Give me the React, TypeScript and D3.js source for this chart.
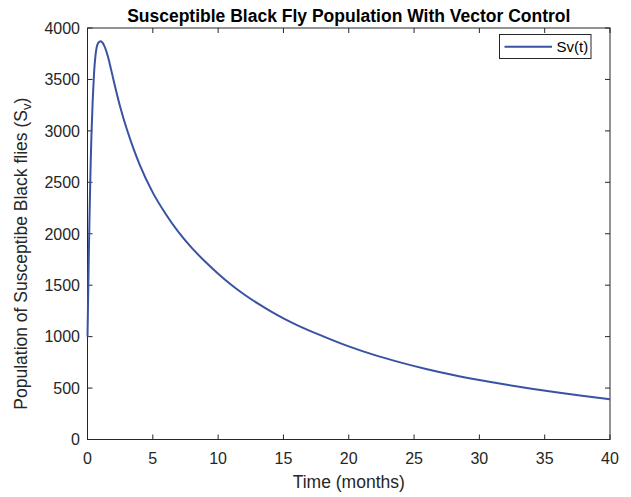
import React from 'react';
import * as d3 from 'd3';

// time in months and susceptible fly counts
const months = [0, 0.05, 0.1, 0.15, 0.2, 0.25, 0.3, 0.4, 0.5, 0.6, 0.7, 0.8, 0.9, 1.0, 1.1, 1.2, 1.3, 1.4, 1.6, 1.8, 2.0, 2.5, 3, 3.5, 4, 5, 6, 7, 8, 9, 10, 11, 12, 13, 14, 15, 16, 18, 20, 22, 24, 26, 28, 30, 32, 34, 36, 38, 40];
const susceptible = [1000, 1400, 1780, 2130, 2440, 2720, 2950, 3300, 3560, 3720, 3810, 3850, 3866, 3870, 3864, 3848, 3822, 3790, 3705, 3600, 3490, 3235, 3020, 2835, 2670, 2400, 2190, 2010, 1860, 1730, 1612, 1505, 1410, 1325, 1248, 1178, 1115, 1005, 905, 820, 747, 683, 627, 578, 534, 494, 457, 423, 392];
const xTicks = [0, 5, 10, 15, 20, 25, 30, 35, 40];
const yTicks = [0, 500, 1000, 1500, 2000, 2500, 3000, 3500, 4000];

const W = 631;
const H = 497;
const margin = { top: 28, right: 21, bottom: 57.5, left: 87.5 };
const axisColor = '#262626';
const lineColor = '#3953a4';
const font = 'Liberation Sans, Arial, Helvetica, sans-serif';

const App: React.FC = () => {
  const innerW = W - margin.left - margin.right;
  const innerH = H - margin.top - margin.bottom;

  const x = d3.scaleLinear().domain([0, 40]).range([0, innerW]);
  const y = d3.scaleLinear().domain([0, 4000]).range([innerH, 0]);

  const data = months.map((t, i) => ({ t, v: susceptible[i] }));
  const path = d3
    .line<{ t: number; v: number }>()
    .x(d => x(d.t))
    .y(d => y(d.v))
    .curve(d3.curveMonotoneX)(data) || '';

  const tickLen = 5;

  return (
    <svg width={W} height={H} style={{ position: 'absolute', left: 0, top: 0, background: '#fff' }} fontFamily={font}>
      <g transform={`translate(${margin.left},${margin.top})`}>
        {/* box */}
        <rect x={0} y={0} width={innerW} height={innerH} fill="none" stroke={axisColor} strokeWidth={1} />

        {/* x ticks, bottom and top */}
        {xTicks.map(t => (
          <g key={'x' + t}>
            <line x1={x(t)} x2={x(t)} y1={innerH} y2={innerH - tickLen} stroke={axisColor} />
            <line x1={x(t)} x2={x(t)} y1={0} y2={tickLen} stroke={axisColor} />
            <text x={x(t)} y={innerH + 24.5} textAnchor="middle" fontSize={16} fill={axisColor}>{t}</text>
          </g>
        ))}

        {/* y ticks, left and right */}
        {yTicks.map(v => (
          <g key={'y' + v}>
            <line x1={0} x2={tickLen} y1={y(v)} y2={y(v)} stroke={axisColor} />
            <line x1={innerW} x2={innerW - tickLen} y1={y(v)} y2={y(v)} stroke={axisColor} />
            <text x={-7.5} y={y(v)} dy="0.36em" textAnchor="end" fontSize={16} fill={axisColor}>{v}</text>
          </g>
        ))}

        <path d={path} fill="none" stroke={lineColor} strokeWidth={2} />

        {/* legend */}
        <g transform={`translate(${innerW - 110.5},6.5)`}>
          <rect x={0} y={0} width={91.5} height={24} fill="#fff" stroke={axisColor} strokeWidth={1} />
          <line x1={5} x2={52.5} y1={12.3} y2={12.3} stroke={lineColor} strokeWidth={2} />
          <text x={57} y={12.3} dy="0.36em" fontSize={15} fill="#000">Sv(t)</text>
        </g>

        {/* title */}
        <text x={innerW / 2} y={-6} textAnchor="middle" fontSize={17.5} fontWeight="bold" fill="#000">
          Susceptible Black Fly Population With Vector Control
        </text>

        {/* x label */}
        <text x={innerW / 2} y={innerH + 48.5} textAnchor="middle" fontSize={17.5} fill={axisColor}>Time (months)</text>

        {/* y label */}
        <text transform={`translate(-60.5,${innerH / 2 + 20}) rotate(-90)`} textAnchor="middle" fontSize={17.5} fill={axisColor}>
          Population of Susceptibe Black flies (S<tspan fontSize={13} dy={4}>v</tspan><tspan dy={-4}>)</tspan>
        </text>
      </g>
    </svg>
  );
};

export default App;
